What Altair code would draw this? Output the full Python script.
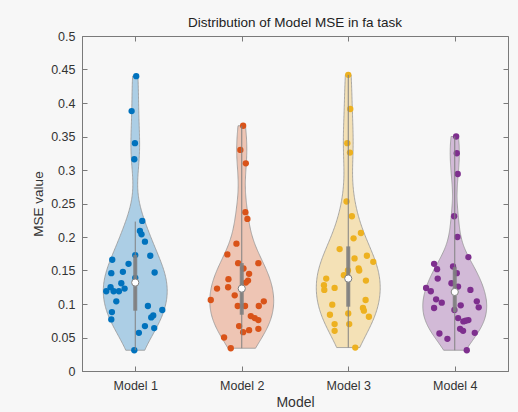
import altair as alt
import numpy as np
import pandas as pd

# ---------------- data ----------------
models = ["Model 1", "Model 2", "Model 3", "Model 4"]
colors = ["#0072BD", "#D95319", "#EDB120", "#7E2F8E"]

m1_values = [0.440, 0.388, 0.340, 0.316, 0.224, 0.209, 0.204, 0.193, 0.173, 0.172,
             0.166, 0.160, 0.148, 0.147, 0.146, 0.139, 0.131, 0.125, 0.123, 0.119,
             0.119, 0.119, 0.104, 0.097, 0.091, 0.088, 0.083, 0.080, 0.077, 0.067,
             0.064, 0.057, 0.031]
m1_jitter = [0.009, -0.034, -0.003, -0.009, 0.066, 0.044, 0.059, 0.091, 0.0, 0.141,
             -0.216, -0.063, -0.116, 0.182, -0.225, 0.0, -0.131, -0.232, -0.100, -0.272,
             -0.203, -0.153, -0.178, 0.119, 0.254, -0.219, 0.169, 0.150, -0.225, 0.091,
             0.178, 0.034, -0.009]

m2_values = [0.366, 0.330, 0.310, 0.237, 0.227, 0.190, 0.174, 0.161, 0.161, 0.153,
             0.145, 0.135, 0.132, 0.137, 0.123, 0.125, 0.113, 0.106, 0.104, 0.097,
             0.097, 0.097, 0.082, 0.079, 0.076, 0.067, 0.063, 0.061, 0.058, 0.050,
             0.034]
m2_jitter = [0.013, -0.013, 0.038, 0.034, 0.053, -0.050, -0.135, -0.034, 0.156, 0.016,
             0.069, 0.059, 0.038, -0.125, -0.232, -0.128, -0.066, -0.291, 0.207, 0.160,
             -0.038, 0.031, 0.085, 0.122, 0.156, -0.025, 0.156, 0.069, 0.013, -0.166,
             -0.103]

m3_values = [0.442, 0.391, 0.340, 0.326, 0.253, 0.231, 0.206, 0.198, 0.182, 0.172,
             0.168, 0.163, 0.153, 0.150, 0.150, 0.143, 0.138, 0.135, 0.128, 0.124,
             0.121, 0.099, 0.106, 0.094, 0.090, 0.086, 0.084, 0.081, 0.070, 0.070,
             0.060, 0.035]
m3_jitter = [0.0, 0.019, -0.009, 0.016, -0.016, 0.034, 0.119, 0.050, -0.081, 0.175,
             0.059, 0.235, 0.097, 0.103, -0.003, -0.041, -0.207, 0.166, -0.228, -0.128,
             -0.225, -0.150, 0.163, 0.138, 0.147, 0.0, -0.172, 0.194, -0.128, 0.009,
             -0.128, 0.066]

m4_values = [0.350, 0.325, 0.294, 0.231, 0.200, 0.170, 0.160, 0.152, 0.156, 0.146,
             0.138, 0.131, 0.124, 0.126, 0.119, 0.121, 0.107, 0.102, 0.104, 0.095,
             0.098, 0.094, 0.091, 0.079, 0.076, 0.074, 0.075, 0.063, 0.060, 0.057,
             0.056, 0.048, 0.031]
m4_jitter = [0.013, 0.019, 0.028, -0.006, 0.025, 0.128, -0.194, -0.166, -0.016, 0.019,
             -0.160, -0.031, -0.269, 0.031, -0.225, 0.147, -0.175, -0.122, 0.207, 0.225,
             0.056, -0.194, -0.003, 0.031, 0.128, 0.081, 0.103, 0.050, 0.078, 0.188,
             -0.144, -0.069, 0.113]

# box-plot elements as drawn in the reference
q1_vals = [0.090, 0.084, 0.096, 0.088]
q3_vals = [0.173, 0.161, 0.186, 0.155]
median_vals = [0.132, 0.123, 0.138, 0.118]
whisker_lo = [0.031, 0.034, 0.035, 0.031]
whisker_hi = [0.223, 0.366, 0.442, 0.350]

x_ticks = [1, 2, 3, 4]
y_ticks = [0, 0.05, 0.1, 0.15, 0.2, 0.25, 0.3, 0.35, 0.4, 0.45, 0.5]

# ---------------- tables ----------------
all_vals = [m1_values, m2_values, m3_values, m4_values]
all_jit = [m1_jitter, m2_jitter, m3_jitter, m4_jitter]
rows = []
for i, (vs, js) in enumerate(zip(all_vals, all_jit), start=1):
    for v, j in zip(vs, js):
        rows.append({"pos": i, "model": models[i - 1], "mse": v, "jit": j})
df = pd.DataFrame(rows)

stats = pd.DataFrame({
    "pos": x_ticks, "model": models, "q1": q1_vals, "q3": q3_vals,
    "med": median_vals, "wlo": whisker_lo, "whi": whisker_hi,
})

W, H = 426, 335
HALF = 0.3
FONT = "Liberation Sans"
BG = "#f7f7f7"
AX = "#7a7a7a"
TXT = "#333333"
GRAY = "#808080"

xscale = alt.Scale(domain=[0.5, 4.5], nice=False, zero=False)
yscale = alt.Scale(domain=[0, 0.5], nice=False, zero=False)
cscale = alt.Scale(domain=models, range=colors)


def matlab_bw(x):
    x = np.asarray(x, dtype=float)
    sig = np.median(np.abs(x - np.median(x))) / 0.6745
    return float(sig * (4.0 / (3.0 * len(x))) ** 0.2)


layers = []

# main axes (labels, titles)
main_axes = alt.Chart(stats).mark_point(opacity=0).encode(
    x=alt.X("pos:Q", scale=xscale, axis=alt.Axis(
        values=x_ticks, labelExpr="'Model ' + datum.value", title="Model",
        tickSize=0, grid=False, domainColor=AX, labelColor=TXT, titleColor=TXT,
        labelFont=FONT, titleFont=FONT, labelFontSize=12.5, titleFontSize=14,
        titleFontWeight="normal", labelPadding=8, titlePadding=4)),
    y=alt.Y("med:Q", scale=yscale, axis=alt.Axis(
        values=y_ticks, format="~g", title="MSE value",
        tickSize=0, grid=False, domainColor=AX, labelColor=TXT, titleColor=TXT,
        labelFont=FONT, titleFont=FONT, labelFontSize=12.5, titleFontSize=13.5,
        titleFontWeight="normal", labelPadding=7, titlePadding=5)),
)
layers.append(main_axes)

# violins
for i, vs in enumerate(all_vals, start=1):
    v = (alt.Chart(df)
         .transform_filter(alt.datum.pos == i)
         .transform_density("mse", as_=["mse", "density"],
                            extent=[min(vs), max(vs)], bandwidth=matlab_bw(vs), steps=200)
         .transform_joinaggregate(maxd="max(density)")
         .transform_calculate(left=f"{i} - {HALF} * datum.density / datum.maxd",
                              right=f"{i} + {HALF} * datum.density / datum.maxd")
         .mark_area(orient="horizontal", fill=colors[i - 1], fillOpacity=0.3,
                    stroke="#969696", strokeWidth=0.8)
         .encode(y=alt.Y("mse:Q", scale=yscale, axis=None),
                 x=alt.X("left:Q", scale=xscale, axis=None),
                 x2="right:Q"))
    layers.append(v)

# scatter points
pts = (alt.Chart(df)
       .transform_calculate(xp="datum.pos + datum.jit")
       .mark_circle(size=40, opacity=1)
       .encode(x=alt.X("xp:Q", scale=xscale, axis=None),
               y=alt.Y("mse:Q", scale=yscale, axis=None),
               color=alt.Color("model:N", scale=cscale, legend=None)))
layers.append(pts)

# whiskers
wh = alt.Chart(stats).mark_rule(color=GRAY, strokeWidth=1).encode(
    x=alt.X("pos:Q", scale=xscale, axis=None),
    y=alt.Y("wlo:Q", scale=yscale, axis=None), y2="whi:Q")
layers.append(wh)

# boxes
bx = alt.Chart(stats).mark_rule(color=GRAY, strokeWidth=4, opacity=0.9).encode(
    x=alt.X("pos:Q", scale=xscale, axis=None),
    y=alt.Y("q1:Q", scale=yscale, axis=None), y2="q3:Q")
layers.append(bx)

# medians
md = alt.Chart(stats).mark_point(shape="circle", filled=True, fill="white",
                                 stroke=GRAY, strokeWidth=1, size=52, opacity=1).encode(
    x=alt.X("pos:Q", scale=xscale, axis=None),
    y=alt.Y("med:Q", scale=yscale, axis=None))
layers.append(md)

# inside tick marks (MATLAB style): bottom & left
ticksA = alt.Chart(stats).mark_point(opacity=0).encode(
    x=alt.X("pos:Q", scale=xscale, axis=alt.Axis(
        orient="top", offset=-H, values=x_ticks, labels=False, domain=False,
        tickSize=5, tickColor=AX, grid=False, title=None)),
    y=alt.Y("med:Q", scale=yscale, axis=alt.Axis(
        orient="right", offset=-W, values=y_ticks, labels=False, domain=False,
        tickSize=5, tickColor=AX, grid=False, title=None)))
# top & right
ticksB = alt.Chart(stats).mark_point(opacity=0).encode(
    x=alt.X("pos:Q", scale=xscale, axis=alt.Axis(
        orient="bottom", offset=-H, values=x_ticks, labels=False, domain=False,
        tickSize=5, tickColor=AX, grid=False, title=None)),
    y=alt.Y("med:Q", scale=yscale, axis=alt.Axis(
        orient="left", offset=-W, values=y_ticks, labels=False, domain=False,
        tickSize=5, tickColor=AX, grid=False, title=None)))
layers += [ticksA, ticksB]

chart = (alt.layer(*layers)
         .resolve_axis(x="independent", y="independent")
         .properties(
             width=W, height=H,
             title=alt.TitleParams(text="Distribution of Model MSE in fa task",
                                   font=FONT, fontSize=13.5, fontWeight="normal",
                                   color="#222222", anchor="middle", offset=1),
             autosize=alt.AutoSizeParams(type="none"),
             padding={"left": 82, "top": 36, "right": 10, "bottom": 41},
             background=BG)
         .configure_view(stroke=AX, strokeWidth=1, fill=BG))

chart.save("out.html", embed_options={"renderer": "svg", "actions": False})
